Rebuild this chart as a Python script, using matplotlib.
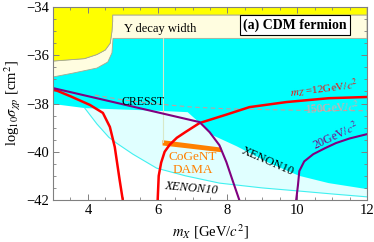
import numpy as np
import matplotlib
matplotlib.use("Agg")
import matplotlib.pyplot as plt
from matplotlib.ticker import MultipleLocator

plt.rcParams['font.family'] = ['Liberation Serif', 'DejaVu Serif']
plt.rcParams['mathtext.fontset'] = 'stix'

# --- data ---
# yellow: Upsilon decay excluded (left block + top band)
yel_x = [3.0, 3.0, 3.9, 4.26, 4.5, 4.64, 4.69, 4.71, 4.71, 12.0, 12.0, 3.0]
yel_y = [-34.0, -36.24, -36.14, -35.97, -35.78, -35.5, -35.0, -34.6, -34.33, -34.33, -34.0, -34.0]
# cream: Upsilon decay width band
crm_x = [3.0, 3.0, 3.57, 4.26, 4.57, 4.69, 4.72, 12.0, 12.0, 4.71, 4.71, 4.69, 4.64, 4.5, 4.26, 3.9]
crm_y = [-36.24, -36.9, -36.74, -36.53, -36.28, -35.9, -35.3, -35.3, -34.33, -34.33, -34.6, -35.0, -35.5, -35.78, -35.97, -36.14]
# cyan: excluded region lower edge (left to right)
cyn_low_x = [3.0, 3.91, 5.0, 6.0, 6.86, 7.2, 7.57, 8.26, 9.2, 10.06, 10.9, 12.0]
cyn_low_y = [-38.02, -38.19, -38.25, -38.3, -38.36, -38.8, -39.31, -39.77, -40.47, -41.0, -41.3, -41.55]
# thin cyan curve (lower XENON10 bound)
thin_x = [3.91, 4.26, 4.6, 4.83, 5.29, 5.97, 6.8, 7.77, 9.0, 10.06, 11.0, 12.0]
thin_y = [-38.19, -38.85, -39.4, -39.65, -40.1, -40.68, -41.0, -41.3, -41.5, -41.63, -41.75, -41.87]
# red, m_Z' = 12 GeV
red1_x = [3.0, 3.5, 4.06, 4.43, 4.63, 4.77, 4.91, 5.0]
red1_y = [-37.4, -37.7, -38.06, -38.39, -38.97, -39.8, -41.17, -42.0]
red2_x = [6.0, 6.03, 6.1, 6.2, 6.35, 6.55, 6.8, 7.2, 7.97, 8.63, 9.69, 10.91, 12.0]
red2_y = [-42.0, -41.0, -40.45, -40.0, -39.7, -39.42, -39.18, -38.81, -38.46, -38.15, -37.94, -37.78, -37.73]
# dashed, m_Z' = 150 GeV
dash_x = [4.2, 5.0, 6.0, 7.0, 8.0, 10.0, 12.0]
dash_y = [-37.65, -37.85, -38.02, -38.15, -38.22, -38.28, -38.3]
# purple, CRESST line + 20 GeV curves
pur1_x = [3.0, 7.2, 7.49, 7.77, 7.97, 8.15, 8.34]
pur1_y = [-37.36, -38.77, -39.19, -39.73, -40.43, -41.2, -42.0]
pur2_x = [9.97, 10.02, 10.06, 10.2, 10.46, 10.8, 11.11, 11.5, 12.0]
pur2_y = [-42.0, -41.4, -40.8, -40.4, -40.1, -39.85, -39.64, -39.45, -39.27]
# CoGeNT / DAMA band
cog_x = [6.14, 7.83, 7.83, 6.14]
cog_y = [-39.52, -39.83, -40.02, -39.74]

fig = plt.figure(figsize=(3.74, 2.42), dpi=100)
ax = fig.add_axes([0.1417, 0.1736, 0.8396, 0.7974])

# light cyan region below cyan, above the thin curve
ax.fill(thin_x + [12.0, 3.91], thin_y + [-35.3, -35.3], color='#e0ffff', lw=0)
# cyan region
ax.fill(cyn_low_x + [12.0, 3.0], cyn_low_y + [-35.3, -35.3], color='#00ffff', lw=0)
ax.plot(thin_x, thin_y, color='#40f0f0', lw=0.8)
ax.fill(crm_x, crm_y, facecolor='#fffde0', edgecolor='#a8a890', lw=0.6)
ax.fill(yel_x, yel_y, facecolor='#ffff00', edgecolor='#a8a890', lw=0.6)
ax.plot([6.15, 6.15], [-35.3, -39.6], color='#d8e8c8', lw=0.8)

ax.plot(dash_x, dash_y, color='#c0a0a0', lw=0.8, dashes=(4, 3))
ax.fill(cog_x, cog_y, color='#ff8000', lw=0)
ax.plot(red1_x, red1_y, color='#ff0000', lw=1.8)
ax.plot(red2_x, red2_y, color='#ff0000', lw=1.8)
ax.plot(pur1_x, pur1_y, color='#800080', lw=1.5)
ax.plot(pur2_x, pur2_y, color='#800080', lw=1.5)

# labels
ax.text(6.06, -34.9, 'Υ decay width', fontsize=9, ha='center', va='center')
ax.text(9.94, -34.75, '(a) CDM fermion', fontsize=10, fontweight='bold', ha='center', va='center',
        bbox=dict(boxstyle='square,pad=0.25', fc='white', ec='black', lw=0.8))
ax.text(5.57, -37.94, 'CRESST', fontsize=8.5, ha='center', va='center')
ax.text(10.77, -37.4, r"$m_{Z'}$=12GeV/$c^2$", fontsize=8, color='#ff0000', ha='center', va='center', rotation=7)
ax.text(11.0, -38.22, r"150GeV/$c^2$", fontsize=8.5, color='#f4a0a0', ha='center', va='center', rotation=3)
ax.text(11.09, -39.35, r"20GeV/$c^2$", fontsize=8.5, color='#800080', ha='center', va='center', rotation=25)
ax.text(9.14, -40.39, 'XENON10', fontsize=9, ha='center', va='center', rotation=-23.5)
ax.text(6.97, -41.5, 'XENON10', fontsize=9, style='italic', ha='center', va='center', rotation=-5)
ax.text(7.0, -40.22, 'CoGeNT', fontsize=9.5, color='#ff8000', ha='center', va='center')
ax.text(7.0, -40.76, 'DAMA', fontsize=9.5, color='#ff8000', ha='center', va='center')

ax.set_xlim(3, 12)
ax.set_ylim(-42, -34)
ax.xaxis.set_major_locator(MultipleLocator(2))
ax.xaxis.set_minor_locator(MultipleLocator(0.5))
ax.yaxis.set_major_locator(MultipleLocator(2))
ax.yaxis.set_minor_locator(MultipleLocator(0.5))
ax.tick_params(which='both', direction='in', top=True, right=True, color='#808080', labelsize=10.5, pad=3)
ax.tick_params(which='major', length=4, width=0.7)
ax.tick_params(which='minor', length=2, width=0.6)
for s in ax.spines.values():
    s.set_color('#808080')
    s.set_linewidth(0.8)

ax.set_xlabel(r'$m_X$ [GeV/$c^2$]', fontsize=10.5, labelpad=4)
ax.set_ylabel(r'log$_{10}\sigma_{\chi p}$ [cm$^2$]', fontsize=10.5, labelpad=2)

fig.savefig('out.png', dpi=100)
